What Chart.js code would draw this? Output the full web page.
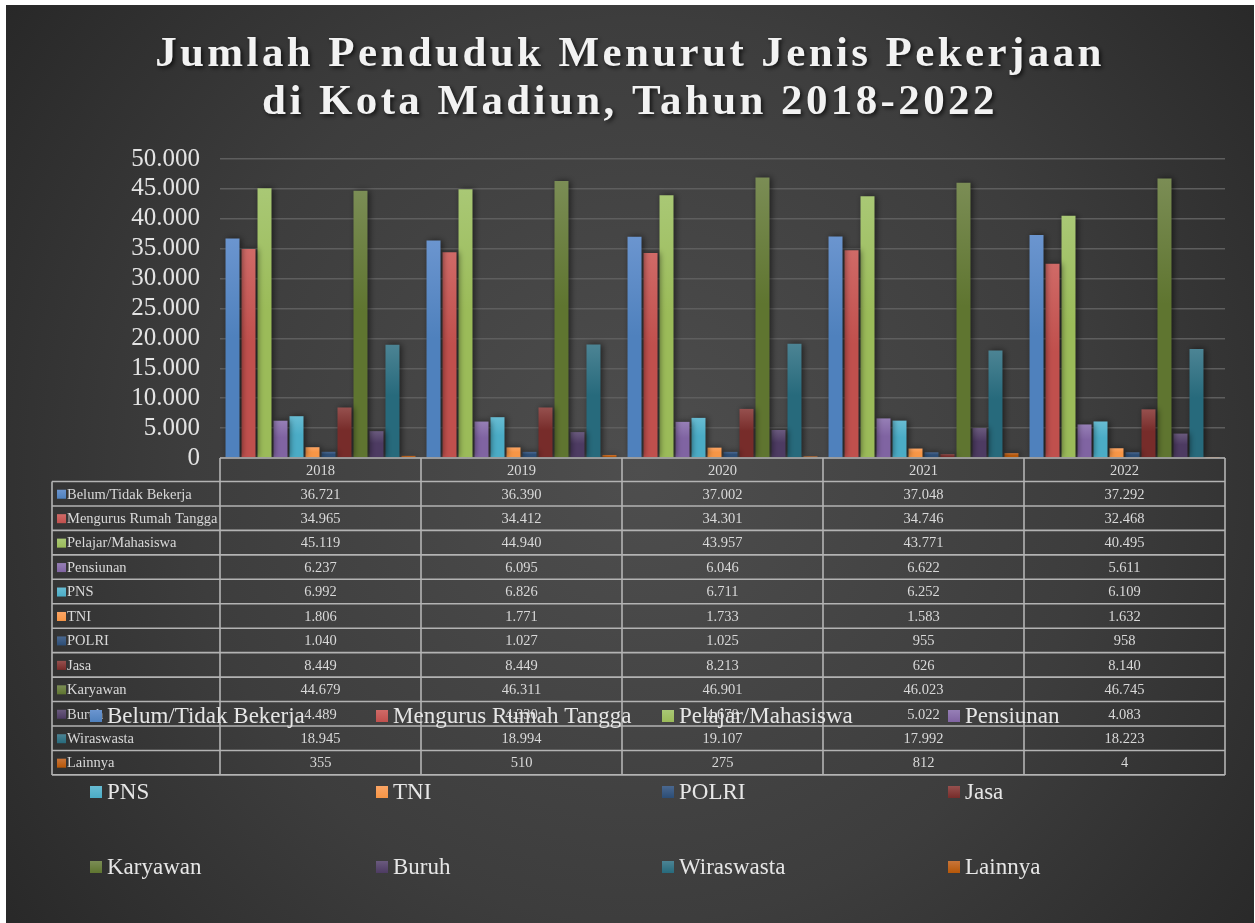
<!DOCTYPE html>
<html><head><meta charset="utf-8">
<script src="https://cdn.jsdelivr.net/npm/chart.js@4.4.1/dist/chart.umd.min.js"></script>
<style>html,body{margin:0;padding:0;background:#fff;}#wrap{position:absolute;left:0;top:0;width:1255px;height:923px;}</style>
</head><body><div id="wrap"><canvas id="c"></canvas></div>
<script>
const titleLines = ['Jumlah Penduduk Menurut Jenis Pekerjaan', 'di Kota Madiun, Tahun 2018-2022'];
const years = ['2018', '2019', '2020', '2021', '2022'];
const seriesNames = ['Belum/Tidak Bekerja','Mengurus Rumah Tangga','Pelajar/Mahasiswa','Pensiunan','PNS','TNI','POLRI','Jasa','Karyawan','Buruh','Wiraswasta','Lainnya'];
const belum = [36721, 36390, 37002, 37048, 37292];
const mengurus = [34965, 34412, 34301, 34746, 32468];
const pelajar = [45119, 44940, 43957, 43771, 40495];
const pensiunan = [6237, 6095, 6046, 6622, 5611];
const pns = [6992, 6826, 6711, 6252, 6109];
const tni = [1806, 1771, 1733, 1583, 1632];
const polri = [1040, 1027, 1025, 955, 958];
const jasa = [8449, 8449, 8213, 626, 8140];
const karyawan = [44679, 46311, 46901, 46023, 46745];
const buruh = [4489, 4330, 4678, 5022, 4083];
const wiraswasta = [18945, 18994, 19107, 17992, 18223];
const lainnya = [355, 510, 275, 812, 4];
const yTicks = [0, 5000, 10000, 15000, 20000, 25000, 30000, 35000, 40000, 45000, 50000];

const seriesValues = [belum, mengurus, pelajar, pensiunan, pns, tni, polri, jasa, karyawan, buruh, wiraswasta, lainnya];
const baseColors = ['#4f81bd','#c0504d','#9bbb59','#8064a2','#4bacc6','#f79646','#2c4d75','#772c2a','#5f7530','#4d3b62','#276a7c','#b65708'];
const topColors  = ['#6b95cf','#d06a67','#a9c875','#967fb6','#68bcd3','#fba565','#4a6890','#96504e','#7b8d55','#6a5a7e','#4c8494','#c8753a'];

const fmt = v => String(v).replace(/\B(?=(\d{3})+(?!\d))/g, '.');
const serif = '"Liberation Serif", "DejaVu Serif", serif';

function barGradient(ctx, i) {
  const chart = ctx.chart;
  if (!chart.chartArea || ctx.type !== 'data') return baseColors[i];
  const y = chart.scales.y;
  const top = y.getPixelForValue(ctx.raw);
  const bot = y.getPixelForValue(0);
  const g = chart.ctx.createLinearGradient(0, top, 0, Math.max(bot, top + 1));
  g.addColorStop(0, topColors[i]);
  g.addColorStop(0.45, baseColors[i]);
  g.addColorStop(1, baseColors[i]);
  return g;
}

const bgPlugin = {
  id: 'bg',
  beforeDraw(chart) {
    const c = chart.ctx;
    c.save();
    c.fillStyle = '#ffffff';
    c.fillRect(0, 0, chart.width, chart.height);
    const g = c.createRadialGradient(640, 470, 0, 640, 470, 820);
    g.addColorStop(0, '#4e4e4e');
    g.addColorStop(0.55, '#3d3d3d');
    g.addColorStop(1, '#262626');
    c.fillStyle = g;
    c.fillRect(6, 5, chart.width - 7, chart.height - 5);
    // title
    c.font = 'bold 43px ' + serif;
    try { c.letterSpacing = '3.4px'; } catch (e) {}
    c.textAlign = 'center';
    c.textBaseline = 'middle';
    c.shadowColor = 'rgba(0,0,0,0.7)';
    c.shadowBlur = 4; c.shadowOffsetX = 2; c.shadowOffsetY = 2;
    c.fillStyle = '#f2f2f2';
    c.fillText(titleLines[0], 630, 55);
    c.fillText(titleLines[1], 630, 103);
    c.restore();
  },
  beforeDatasetsDraw(chart) {
    const c = chart.ctx;
    c.save();
    c.shadowColor = 'rgba(0,0,0,0.55)';
    c.shadowBlur = 6; c.shadowOffsetX = 2; c.shadowOffsetY = 0;
  },
  afterDatasetsDraw(chart) {
    chart.ctx.restore();
  },
  afterDraw(chart) {
    const c = chart.ctx;
    const x = chart.scales.x;
    const area = chart.chartArea;
    const colW = (area.right - area.left) / years.length;
    const top = area.bottom;
    const headH = 23.5;
    const rowH = 24.45;
    const left = 52;
    c.save();
    // table text
    c.font = '14.5px ' + serif;
    c.fillStyle = '#d9d9d9';
    c.textBaseline = 'middle';
    c.textAlign = 'center';
    years.forEach((yr, j) => {
      c.fillText(yr, x.getPixelForValue(j), top + headH / 2 + 1);
    });
    seriesNames.forEach((name, i) => {
      const yc = top + headH + rowH * i + rowH / 2 + 1;
      c.textAlign = 'center';
      c.fillStyle = '#d9d9d9';
      seriesValues[i].forEach((v, j) => c.fillText(fmt(v), x.getPixelForValue(j), yc));
      const sg = c.createLinearGradient(0, yc - 5, 0, yc + 4);
      sg.addColorStop(0, topColors[i]); sg.addColorStop(1, baseColors[i]);
      c.fillStyle = sg;
      c.fillRect(57, yc - 5, 9, 9);
      c.textAlign = 'left';
      c.fillStyle = '#d9d9d9';
      c.fillText(name, 67, yc);
    });
    // table grid
    c.strokeStyle = '#b3b3b3';
    c.lineWidth = 1.6;
    const bottom = top + headH + rowH * seriesNames.length;
    c.beginPath();
    c.moveTo(area.left, top); c.lineTo(area.right, top);
    for (let i = 0; i <= seriesNames.length; i++) {
      const yy = top + headH + rowH * i;
      c.moveTo(left, yy); c.lineTo(area.right, yy);
    }
    c.moveTo(left, top + headH); c.lineTo(left, bottom);
    for (let j = 0; j <= years.length; j++) {
      const xx = area.left + colW * j;
      c.moveTo(xx, top); c.lineTo(xx, bottom);
    }
    c.stroke();
    // legend
    c.font = '23px ' + serif;
    c.textAlign = 'left';
    c.textBaseline = 'middle';
    const colX = [90, 376, 662, 948];
    const rowY = [716, 792, 867];
    seriesNames.forEach((name, i) => {
      const lx = colX[i % 4], ly = rowY[Math.floor(i / 4)];
      const sg = c.createLinearGradient(0, ly - 6, 0, ly + 6);
      sg.addColorStop(0, topColors[i]); sg.addColorStop(1, baseColors[i]);
      c.fillStyle = sg;
      c.fillRect(lx, ly - 6, 12, 12);
      c.fillStyle = '#e6e6e6';
      c.fillText(name, lx + 17, ly + 1);
    });
    c.restore();
  }
};

const datasets = seriesNames.map((name, i) => ({
  label: name,
  data: seriesValues[i],
  backgroundColor: ctx => barGradient(ctx, i),
  borderWidth: 0,
  barPercentage: 0.875,
  categoryPercentage: 0.955
}));

new Chart(document.getElementById('c'), {
  type: 'bar',
  data: { labels: years, datasets },
  plugins: [bgPlugin],
  options: {
    responsive: true,
    maintainAspectRatio: false,
    animation: false,
    layout: { padding: { left: 0, right: 30, top: 159, bottom: 465 } },
    plugins: { legend: { display: false }, title: { display: false }, tooltip: { enabled: false } },
    scales: {
      x: { display: false, grid: { display: false } },
      y: {
        min: 0, max: 50000,
        afterFit(s) { s.width = 220; },
        afterBuildTicks(s) { s.ticks = yTicks.map(v => ({ value: v })); },
        border: { display: false },
        grid: { color: '#5e5e5e', lineWidth: 1.5, drawTicks: false },
        ticks: {
          autoSkip: false,
          padding: 20,
          color: '#e3e3e3',
          font: { family: serif, size: 25 },
          callback: v => fmt(v)
        }
      }
    }
  }
});
</script></body></html>
